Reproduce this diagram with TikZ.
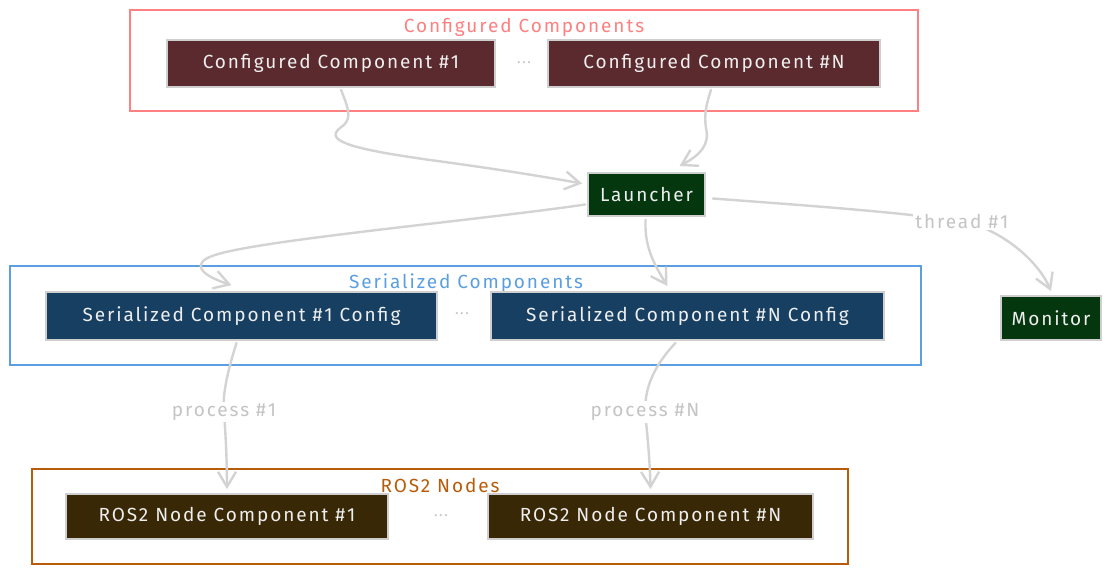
\documentclass[tikz,border=0pt]{standalone}
\usepackage{fontspec}
\setmainfont{Fira Sans}[LetterSpace=10]
\usetikzlibrary{arrows.meta,calc}
\definecolor{cfgred}{HTML}{FF8080}
\definecolor{cfgfill}{HTML}{5B2A2E}
\definecolor{launchfill}{HTML}{05370F}
\definecolor{serblue}{HTML}{5B9EE1}
\definecolor{serfill}{HTML}{173F62}
\definecolor{rosbrown}{HTML}{B85C0A}
\definecolor{rosfill}{HTML}{382806}
\definecolor{nodetext}{HTML}{EEEEEE}
\definecolor{nodeborder}{HTML}{CFCFCF}
\definecolor{edgegray}{HTML}{D3D3D3}
\definecolor{labelgray}{HTML}{C4C4C4}
\tikzset{
  compbox/.style={draw=nodeborder, line width=1.8pt, text=nodetext, inner sep=0pt,
    font=\fontsize{19}{22}\selectfont},
  cluster/.style={draw, line width=1.8pt, fill=none},
  clabel/.style={font=\fontsize{19}{22}\selectfont, inner sep=1pt},
  dots/.style={text=labelgray, font=\fontsize{15}{18}\selectfont},
  edge/.style={draw=edgegray, line width=2.4pt, line cap=round,
    -{Straight Barb[length=15pt,width=18pt,line width=2.4pt]}},
  elabel/.style={fill=white, text=labelgray, inner sep=2pt, font=\fontsize{19}{22}\selectfont}
}
\begin{document}
\begin{tikzpicture}[x=1pt,y=-1pt]
\useasboundingbox (0,0) rectangle (1111,574);
% clusters
\draw[cluster, cfgred] (130,10) rectangle (918,111);
\node[clabel, text=cfgred] (lcfg) at (524,27) {Configured Components};
\draw[cluster, serblue] (10,266) rectangle (921,365);
\node[clabel, text=serblue] (lser) at (466,283) {Serialized Components};
\draw[cluster, rosbrown] (32,469) rectangle (848,564);
\node[clabel, text=rosbrown] (lros) at (440,485) {ROS2 Nodes};
% nodes
\node[compbox, fill=cfgfill, minimum width=328pt, minimum height=47pt] (cc1) at (331,63.5) {Configured Component \#1};
\node[dots] (d1) at (524,63) {...};
\node[compbox, fill=cfgfill, minimum width=332pt, minimum height=47pt] (ccn) at (714,63.5) {Configured Component \#N};
\node[compbox, fill=launchfill, minimum width=117pt, minimum height=43pt] (launcher) at (646.5,194.5) {Launcher};
\node[compbox, fill=launchfill, minimum width=100pt, minimum height=44pt] (monitor) at (1051,318) {Monitor};
\node[compbox, fill=serfill, minimum width=391pt, minimum height=48pt] (sc1) at (241.5,316) {Serialized Component \#1 Config};
\node[dots] (d2) at (462,314) {...};
\node[compbox, fill=serfill, minimum width=393pt, minimum height=48pt] (scn) at (687.5,316) {Serialized Component \#N Config};
\node[compbox, fill=rosfill, minimum width=322pt, minimum height=45pt] (r1) at (227,516.5) {ROS2 Node Component \#1};
\node[dots] (d3) at (441,516) {...};
\node[compbox, fill=rosfill, minimum width=325pt, minimum height=45pt] (rn) at (650.5,516.5) {ROS2 Node Component \#N};
% edges
\draw[edge] ($(cc1.south)+(10,2)$) .. controls (350,112) and (352,120) .. (340,128)
  .. controls (322,142) and (360,150) .. (430,160)
  .. controls (490,168) and (540,176) .. ($(launcher.west)+(-5,-11)$);
\draw[edge] ($(ccn.south)+(-3,2)$) .. controls (706,105) and (704,115) .. (706,128)
  .. controls (710,145) and (700,155) .. ($(launcher.north)+(33,-6)$);
\draw[edge] ($(launcher.west)+(-2,10)$) .. controls (480,220) and (260,240) .. (215,255)
  .. controls (190,263) and (200,275) .. ($(sc1.north)+(-10,-6)$);
\draw[edge] ($(launcher.south)+(-1,3)$) .. controls (645,240) and (648,255) .. ($(scn.north)+(-20,-5)$);
\draw[edge] ($(launcher.east)+(7,4)$) .. controls (800,205) and (900,212) .. node[elabel, pos=0.97] (lt) {thread \#1} (968,222)
  .. controls (1010,235) and (1040,265) .. ($(monitor.north)+(0,-4)$);
\draw[edge] ($(sc1.south)+(-5,2)$) .. controls (228,370) and (222,395) .. node[elabel, pos=1] (lp1) {process \#1} (224,412)
  .. controls (226,440) and (227,465) .. ($(r1.north)+(0,-4)$);
\draw[edge] ($(scn.south)+(-12,2)$) .. controls (650,370) and (645,392) .. node[elabel, pos=1] (lpn) {process \#N} (645,412)
  .. controls (648,440) and (650,465) .. ($(rn.north)+(0,-4)$);
\end{tikzpicture}
\end{document}
